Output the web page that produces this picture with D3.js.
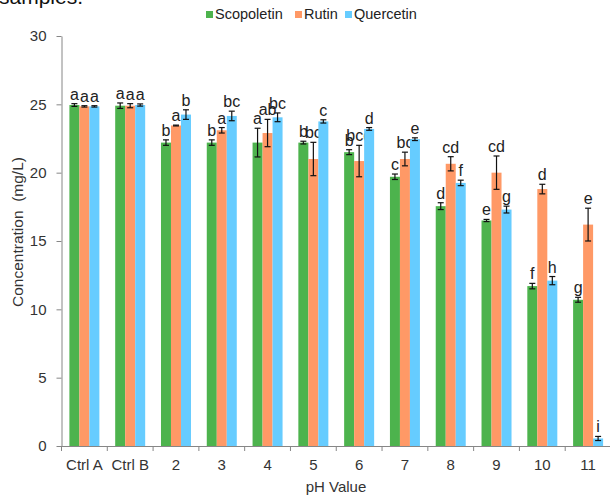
<!DOCTYPE html>
<html>
<head>
<meta charset="utf-8">
<script src="https://cdn.jsdelivr.net/npm/d3@7"></script>
<style>
  html, body { margin: 0; padding: 0; background: #fff; }
  svg { display: block; font-family: "Liberation Sans", Arial, sans-serif; }
</style>
</head>
<body>
<svg id="chart" width="610" height="495"></svg>
<script>
// pH groups along the x axis
const categories = ["Ctrl A", "Ctrl B", "2", "3", "4", "5", "6", "7", "8", "9", "10", "11"];
const seriesNames = ["Scopoletin", "Rutin", "Quercetin"];

// mean concentrations (mg/L)
const scopoletin = [24.95, 24.9, 22.2, 22.2, 22.2, 22.2, 21.5, 19.7, 17.55, 16.5, 11.7, 10.7];
const rutin      = [24.85, 24.9, 23.45, 23.1, 22.9, 21.0, 20.85, 21.0, 20.65, 20.0, 18.8, 16.2];
const quercetin  = [24.85, 24.95, 24.25, 24.15, 24.05, 23.75, 23.2, 22.45, 19.25, 17.3, 12.1, 0.55];

// standard deviations
const scopoletinErr = [0.1, 0.2, 0.2, 0.2, 1.05, 0.1, 0.18, 0.2, 0.25, 0.08, 0.2, 0.18];
const rutinErr      = [0.05, 0.15, 0.03, 0.2, 1.0, 1.22, 1.15, 0.5, 0.52, 1.22, 0.35, 1.2];
const quercetinErr  = [0.05, 0.08, 0.35, 0.35, 0.32, 0.12, 0.1, 0.1, 0.2, 0.25, 0.3, 0.15];

// significance letters
const scopoletinSig = ["a", "a", "b", "b", "a", "b", "b", "c", "d", "e", "f", "g"];
const rutinSig      = ["a", "a", "a", "a", "ab", "bc", "bcd", "bc", "cd", "cd", "d", "e"];
const quercetinSig  = ["a", "a", "b", "bc", "bc", "c", "d", "e", "f", "g", "h", "i"];

const yTicks = [0, 5, 10, 15, 20, 25, 30];
const colors = ["#4db34d", "#ff9966", "#66ccff"];

const series = [
  { name: seriesNames[0], values: scopoletin, errs: scopoletinErr, sig: scopoletinSig, color: colors[0] },
  { name: seriesNames[1], values: rutin, errs: rutinErr, sig: rutinSig, color: colors[1] },
  { name: seriesNames[2], values: quercetin, errs: quercetinErr, sig: quercetinSig, color: colors[2] }
];

const svg = d3.select("#chart");
const plot = { left: 61.5, right: 611, top: 36, bottom: 446 };
const FONT = "Liberation Sans, Arial, sans-serif";

const x = d3.scaleBand().domain(categories).range([plot.left, plot.right]).padding(0);
const groupW = x.bandwidth() * 0.655;
const xi = d3.scaleBand().domain(seriesNames).range([0, groupW]).padding(0);
const groupOff = (x.bandwidth() - groupW) / 2;
const y = d3.scaleLinear().domain([0, 30]).range([plot.bottom, plot.top]);

// clipped caption line above the chart
svg.append("text")
  .attr("x", -1).attr("y", 4)
  .attr("font-size", 21).attr("fill", "#111")
  .text("samples.");

// y axis
const yAxis = svg.append("g")
  .attr("transform", `translate(${plot.left},0)`)
  .call(d3.axisLeft(y).tickValues(yTicks).tickSize(5).tickSizeOuter(0).tickPadding(10));
yAxis.select(".domain").attr("stroke", "#868686");
yAxis.selectAll(".tick line").attr("stroke", "#868686");
yAxis.selectAll(".tick text").attr("font-size", 15).attr("fill", "#333").attr("font-family", FONT);

// x axis: labels at band centres, ticks on band boundaries
const xAxis = svg.append("g")
  .attr("transform", `translate(0,${plot.bottom})`)
  .call(d3.axisBottom(x).tickSize(0).tickPadding(13));
xAxis.select(".domain").attr("stroke", "#868686");
xAxis.selectAll(".tick text").attr("font-size", 15).attr("fill", "#333").attr("font-family", FONT);
svg.append("g").selectAll("line")
  .data(categories)
  .join("line")
  .attr("x1", d => x(d)).attr("x2", d => x(d))
  .attr("y1", plot.bottom).attr("y2", plot.bottom + 5)
  .attr("stroke", "#868686");

// bars, error bars and letters
series.forEach((s) => {
  const g = svg.append("g");
  const bx = (i) => x(categories[i]) + groupOff + xi(s.name);
  const bw = xi.bandwidth();

  g.selectAll("rect")
    .data(s.values)
    .join("rect")
    .attr("x", (d, i) => bx(i))
    .attr("width", bw)
    .attr("y", d => y(d))
    .attr("height", d => y(0) - y(d))
    .attr("fill", s.color);

  const eg = g.append("g").attr("stroke", "#111").attr("stroke-width", 1.2);
  s.values.forEach((v, i) => {
    const cx = bx(i) + bw / 2;
    const hi = y(v + s.errs[i]);
    const lo = y(v - s.errs[i]);
    eg.append("line").attr("x1", cx).attr("x2", cx).attr("y1", hi).attr("y2", lo);
    eg.append("line").attr("x1", cx - 3).attr("x2", cx + 3).attr("y1", hi).attr("y2", hi);
    eg.append("line").attr("x1", cx - 3).attr("x2", cx + 3).attr("y1", lo).attr("y2", lo);
  });

  g.selectAll("text.sig")
    .data(s.values)
    .join("text")
    .attr("class", "sig")
    .attr("x", (d, i) => bx(i) + bw / 2)
    .attr("y", (d, i) => y(d + s.errs[i]) - 4)
    .attr("text-anchor", "middle")
    .attr("font-size", 16)
    .attr("fill", "#222")
    .text((d, i) => s.sig[i]);
});

// axis titles
svg.append("text")
  .attr("transform", `translate(23,${232}) rotate(-90)`)
  .attr("text-anchor", "middle")
  .attr("font-size", 15.5).attr("fill", "#333")
  .attr("xml:space", "preserve")
  .text("Concentration  (mg/L)");

svg.append("text")
  .attr("x", 336).attr("y", 492)
  .attr("text-anchor", "middle")
  .attr("font-size", 15).attr("fill", "#333")
  .text("pH Value");

// legend
const legend = svg.append("g").attr("transform", "translate(206,19)");
const legendX = [0, 89, 139];
series.forEach((s, i) => {
  const lg = legend.append("g").attr("transform", `translate(${legendX[i]},0)`);
  lg.append("rect").attr("x", 0).attr("y", -8).attr("width", 7).attr("height", 7).attr("fill", s.color);
  lg.append("text").attr("x", 9).attr("y", 0).attr("font-size", 14.5).attr("fill", "#222").text(s.name);
});
</script>
</body>
</html>
